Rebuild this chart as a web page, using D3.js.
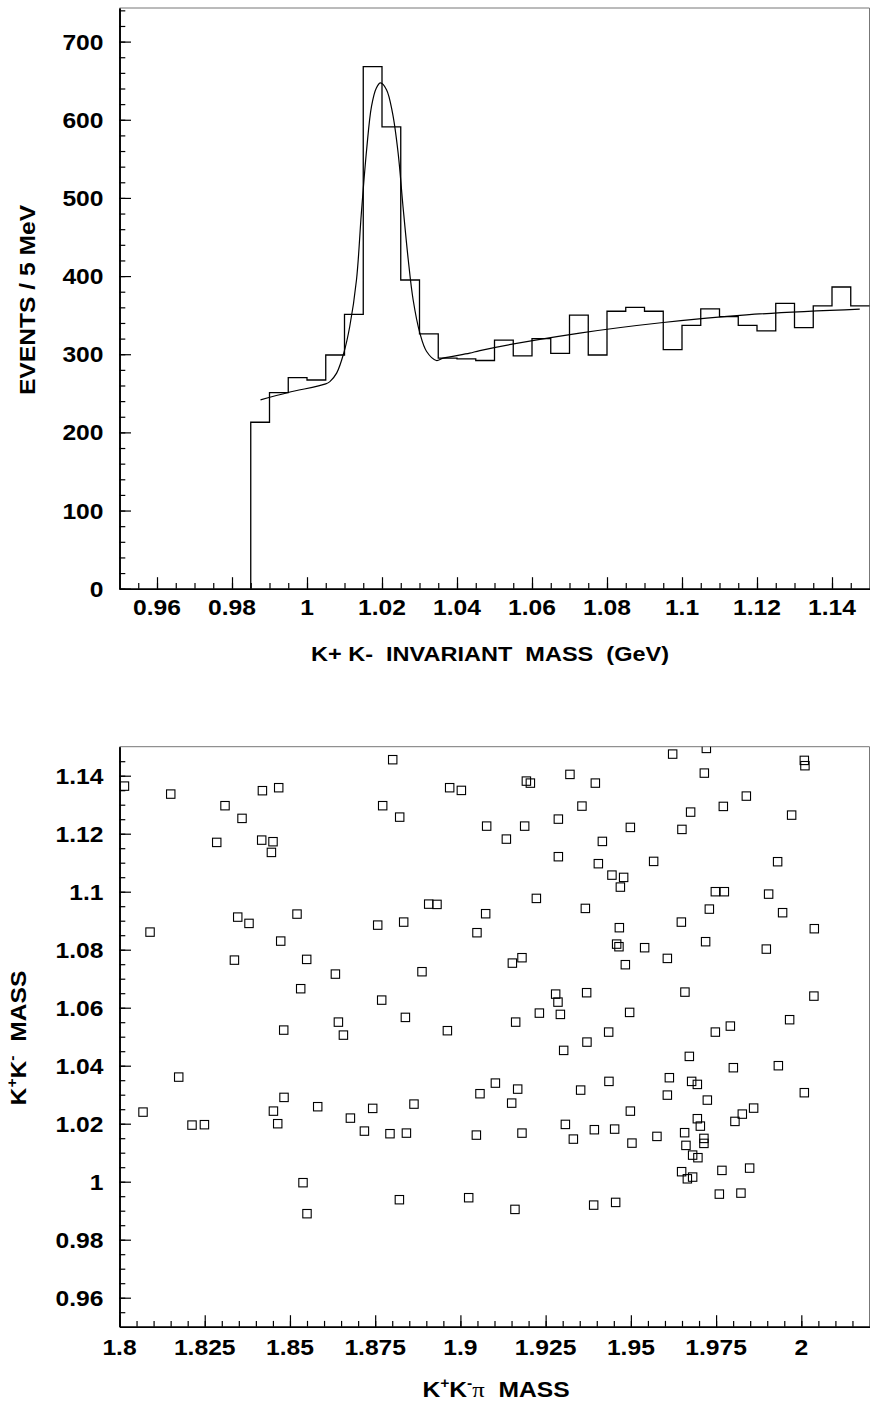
<!DOCTYPE html>
<html><head><meta charset="utf-8">
<script src="https://cdn.jsdelivr.net/npm/d3@7"></script>
<style>
body{margin:0;background:#fff}
svg{display:block}
text{font-family:"Liberation Sans",Arial,Helvetica,sans-serif;font-weight:bold;fill:#000;white-space:pre}
</style>
</head><body>
<svg id="c" width="870" height="1403"></svg>
<script>
// ---------------- DATA ----------------
// Top panel: K+K- invariant mass histogram (5 MeV bins)
const binLow = [0.985,0.990,0.995,1.000,1.005,1.010,1.015,1.020,1.025,1.030,1.035,1.040,1.045,
  1.050,1.055,1.060,1.065,1.070,1.075,1.080,1.085,1.090,1.095,1.100,1.105,1.110,1.115,1.120,
  1.125,1.130,1.135,1.140,1.145];
const binWidth = 0.005;
const events = [213,251,270,267,299,351,668,591,395,326,295,294,292,
  318,298,320,301,350,299,355,360,355,306,337,358,348,337,330,
  365,334,362,386,362];
// fitted curve, points
const fitMass = [0.9876,0.995,1.005,1.0061,1.0079,1.0098,1.0114,1.0132,1.0145,1.0159,1.0172,1.0185,
  1.0196,1.0212,1.0228,1.0243,1.0256,1.027,1.0283,1.0301,1.0319,1.0345,1.0363,1.0434,1.0461,
  1.0727,1.095,1.1172,1.1474];
const fitEvents = [241.6,251,262,265,275.8,301.4,335.5,395.3,480.7,561.7,617.2,640.7,
  647.1,638.5,608.7,557.5,489.1,420.9,369.7,327,303.5,292,295,301.4,304.7,
  327,340.6,350.4,357.7];
const topXTicks = [0.96,0.98,1.00,1.02,1.04,1.06,1.08,1.10,1.12,1.14];
const topXLabels = ["0.96","0.98","1","1.02","1.04","1.06","1.08","1.1","1.12","1.14"];
const topYTicks = [0,100,200,300,400,500,600,700];
const topYLabels = ["0","100","200","300","400","500","600","700"];

// Bottom panel: scatter K+K-pi mass vs K+K- mass
const kkpiMass = [1.80145,1.81503,1.88014,1.84192,1.8467,1.83095,1.83594,1.8772,1.88219,1.89685,1.90028,
  1.82852,1.84171,1.84503,1.84456,1.8907,1.89313,1.83468,1.83799,1.85207,1.87574,1.88336,1.80896,1.90486,
  1.84729,1.83371,1.85491,1.86333,1.88873,1.85315,1.87691,1.88386,1.84817,1.86421,1.86568,1.89618,1.81737,
  1.8069,1.82127,1.82491,1.84515,1.84641,1.84826,1.85814,1.86773,1.87184,1.87427,1.87934,1.88416,1.88638,
  1.85383,1.855,1.8821,1.90243,1.96226,1.97214,2.00088,2.00106,1.97155,1.91935,1.92052,1.93213,1.93958,
  1.93565,1.98387,1.96753,1.97712,1.99716,1.9077,1.91885,1.92873,1.94985,1.96498,1.91348,1.94164,1.92873,
  1.94046,1.95668,1.99305,1.94445,1.94788,1.94692,1.97478,1.97742,1.99041,1.92228,1.93665,1.97302,1.99451,
  1.90741,1.94662,1.96481,2.00381,1.94583,1.94651,1.95404,1.9607,1.97193,1.98973,1.91806,1.91524,1.94838,
  1.92794,1.92862,1.93703,1.96586,2.00369,1.92316,1.92932,1.94964,1.91621,1.99657,1.94349,1.97478,1.97918,
  1.93712,1.93029,1.96715,1.98006,1.99326,1.91026,1.90574,1.9168,1.91504,1.93527,1.94357,1.96129,1.96783,
  1.9695,1.9607,1.97243,2.00088,1.94985,1.98269,1.98601,1.98053,1.9695,1.97038,1.90468,1.91806,1.93079,
  1.93313,1.93929,1.94524,1.95032,1.95765,1.96577,1.96616,1.97143,1.97143,1.96812,1.96967,1.96489,1.96657,
  1.96812,1.97671,1.98484,1.916,1.93909,1.94554,1.97595,1.98229];
const kkMass = [1.13641,1.13366,1.14552,1.13483,1.13586,1.12966,1.12528,1.12966,1.12572,1.13586,1.13493,
  1.1170,1.11779,1.11724,1.11355,1.09572,1.09562,1.09124,1.08907,1.09228,1.08848,1.08952,1.08607,1.08586,
  1.08297,1.07641,1.07666,1.07159,1.07241,1.06655,1.06262,1.05666,1.05228,1.05503,1.05055,1.05207,1.03607,
  1.024,1.01952,1.01966,1.02434,1.02,1.02907,1.02586,1.02193,1.01745,1.02528,1.01655,1.01676,1.02676,
  0.99966,0.98897,0.99379,0.99448,1.14745,1.14941,1.14528,1.14345,1.1409,1.13814,1.13745,1.14045,1.13745,
  1.12952,1.13297,1.12745,1.12941,1.12641,1.12262,1.12262,1.12503,1.12217,1.12148,1.11814,1.11734,1.11207,
  1.10966,1.11045,1.11034,1.10572,1.10493,1.10159,1.1,1.1,1.09917,1.09769,1.09424,1.094,1.09276,
  1.09241,1.08759,1.08952,1.08724,1.08193,1.08103,1.08069,1.077,1.08276,1.08021,1.07724,1.07538,1.07483,
  1.06469,1.06193,1.06517,1.06538,1.064,1.05814,1.05769,1.05838,1.05503,1.05586,1.05159,1.05159,1.05366,
  1.04814,1.04528,1.04321,1.03931,1.04,1.034,1.03034,1.03193,1.0271,1.03159,1.03459,1.03586,1.03459,
  1.03355,1.02986,1.02814,1.03069,1.02434,1.02331,1.02538,1.02079,1.02172,1.01917,1.01607,1.01676,1.01976,
  1.01469,1.01793,1.01814,1.01331,1.01562,1.0169,1.01252,1.01493,1.01321,1.00917,1.00828,1.00345,1.001,
  1.00159,1.0039,1.00469,0.99045,0.99193,0.99286,0.99572,0.99607];
const botXTicks = [1.8,1.825,1.85,1.875,1.9,1.925,1.95,1.975,2.0];
const botXLabels = ["1.8","1.825","1.85","1.875","1.9","1.925","1.95","1.975","2"];
const botYTicks = [0.96,0.98,1.00,1.02,1.04,1.06,1.08,1.10,1.12,1.14];
const botYLabels = ["0.96","0.98","1","1.02","1.04","1.06","1.08","1.1","1.12","1.14"];

// ---------------- DRAW ----------------
const svg = d3.select("#c");
const S = 1.12;      // horizontal stretch of the lettering
const FS = 22;       // tick label font size

function label(x, y, txt, anchor, size, rot) {
  const g = svg.append("g").attr("transform",
    `translate(${x},${y})` + (rot ? ` rotate(${rot})` : "") + ` scale(${S},1)`);
  const t = g.append("text").attr("text-anchor", anchor).style("font-size", size + "px");
  if (typeof txt === "string") t.text(txt); else txt(t);
  return t;
}
function minorTicks(lo, hi, step) {
  const out = [];
  const n = Math.round((hi - lo) / step);
  for (let i = 0; i <= n; i++) out.push(+(lo + i * step).toFixed(6));
  return out;
}

function frame(L, R, T, B) {
  svg.append("path").attr("d", `M${L},${T}H${R}V${B}`)
    .attr("fill", "none").attr("stroke", "#777").attr("stroke-width", 1);
}

function axes(x, y, L, B, xMinor, yMinor) {
  const gx = svg.append("g").attr("transform", `translate(0,${B})`);
  gx.call(d3.axisBottom(x).tickValues(xMinor).tickSize(-5.8).tickSizeOuter(0).tickFormat(""));
  gx.append("g").call(d3.axisBottom(x).tickValues(x.__major).tickSize(-11.5).tickSizeOuter(0).tickFormat(""));
  const gy = svg.append("g").attr("transform", `translate(${L},0)`);
  gy.call(d3.axisLeft(y).tickValues(yMinor).tickSize(-5.8).tickSizeOuter(0).tickFormat(""));
  gy.append("g").call(d3.axisLeft(y).tickValues(y.__major).tickSize(-11.5).tickSizeOuter(0).tickFormat(""));
  svg.selectAll(".tick line").attr("stroke", "#000").attr("stroke-width", 1.2);
  svg.selectAll(".domain").attr("stroke", "#000").attr("stroke-width", 1.6);
}

// ---- Top panel ----
const tL = 119.5, tR = 869.5, tT = 8, tB = 588.7;
const xT = d3.scaleLinear().domain([0.95, 1.15]).range([tL, tR]);
const yT = d3.scaleLinear().domain([0, 743]).range([tB, tT]);
xT.__major = topXTicks; yT.__major = topYTicks;

frame(tL, tR, tT, tB);

// histogram step path
const histPts = [[binLow[0], 0]];
events.forEach((v, i) => { histPts.push([binLow[i], v]); histPts.push([binLow[i] + binWidth, v]); });
const histLine = d3.line().x(d => xT(d[0])).y(d => yT(d[1]));
svg.append("path").attr("d", histLine(histPts))
  .attr("fill", "none").attr("stroke", "#000").attr("stroke-width", 1.3);

// fitted curve
const fitLine = d3.line().x(d => xT(d[0])).y(d => yT(d[1])).curve(d3.curveCatmullRom.alpha(0.5));
svg.append("path").attr("d", fitLine(fitMass.map((m, i) => [m, fitEvents[i]])))
  .attr("fill", "none").attr("stroke", "#000").attr("stroke-width", 1.2);

axes(xT, yT, tL, tB, minorTicks(0.955, 1.145, 0.005), minorTicks(0, 740, 20));

topXTicks.forEach((v, i) => label(xT(v), 615, topXLabels[i], "middle", FS));
topYTicks.forEach((v, i) => label(103.5, yT(v) + 8, topYLabels[i], "end", FS));
label(490, 661, "K+ K-  INVARIANT  MASS  (GeV)", "middle", 21);
label(35, 300, "EVENTS / 5 MeV", "middle", 22, -90);

// ---- Bottom panel ----
const bL = 119.5, bR = 869.5, bT = 746.7, bB = 1326.7;
const xB = d3.scaleLinear().domain([1.8, 2.02]).range([bL, bR]);
const yB = d3.scaleLinear().domain([0.95, 1.15]).range([bB, bT]);
xB.__major = botXTicks; yB.__major = botYTicks;

frame(bL, bR, bT, bB);

svg.append("clipPath").attr("id", "clipB").append("rect")
  .attr("x", bL).attr("y", bT).attr("width", bR - bL).attr("height", bB - bT);
const sq = 8.4;
svg.append("g").attr("clip-path", "url(#clipB)")
  .selectAll("rect").data(kkpiMass.map((m, i) => [m, kkMass[i]])).join("rect")
  .attr("x", d => xB(d[0]) - sq / 2).attr("y", d => yB(d[1]) - sq / 2)
  .attr("width", sq).attr("height", sq)
  .attr("fill", "none").attr("stroke", "#000").attr("stroke-width", 1.1);

axes(xB, yB, bL, bB, minorTicks(1.805, 2.015, 0.005), minorTicks(0.955, 1.145, 0.005));

botXTicks.forEach((v, i) => label(xB(v), 1355, botXLabels[i], "middle", FS));
botYTicks.forEach((v, i) => label(103.5, yB(v) + 8, botYLabels[i], "end", FS));

label(496, 1397, t => {
  t.append("tspan").text("K");
  t.append("tspan").attr("dy", -9).style("font-size", "14px").text("+");
  t.append("tspan").attr("dy", 9).text("K");
  t.append("tspan").attr("dy", -9).style("font-size", "14px").text("-");
  t.append("tspan").attr("dy", 9).style("font-family", "'Liberation Serif',serif").style("font-weight", "normal").text("\u03c0");
  t.append("tspan").text("  MASS");
}, "middle", 22);

label(26, 1038, t => {
  t.append("tspan").text("K");
  t.append("tspan").attr("dy", -9).style("font-size", "14px").text("+");
  t.append("tspan").attr("dy", 9).text("K");
  t.append("tspan").attr("dy", -9).style("font-size", "14px").text("-");
  t.append("tspan").attr("dy", 9).text("  MASS");
}, "middle", 22, -90);
</script>
</body></html>
